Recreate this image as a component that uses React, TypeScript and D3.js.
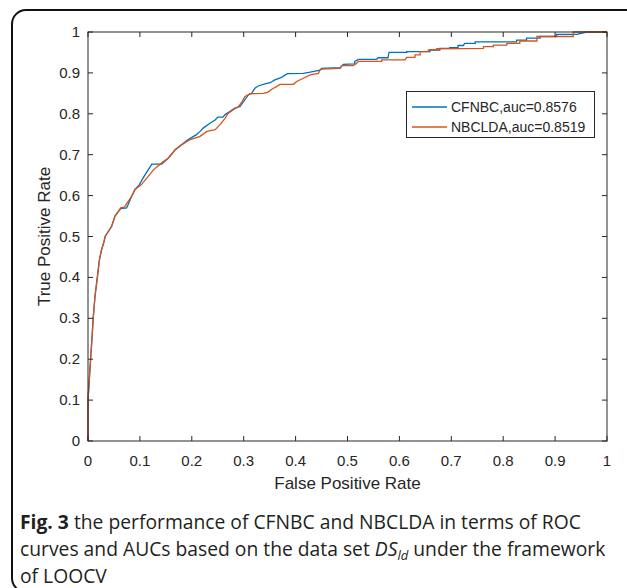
import React from "react";
import * as d3 from "d3";

const xTicks = [0, 0.1, 0.2, 0.3, 0.4, 0.5, 0.6, 0.7, 0.8, 0.9, 1];
const yTicks = [0, 0.1, 0.2, 0.3, 0.4, 0.5, 0.6, 0.7, 0.8, 0.9, 1];

const seriesNames = ["CFNBC,auc=0.8576", "NBCLDA,auc=0.8519"];
const seriesColors = ["#0072BD", "#D95319"];

const cfnbcFpr = [0,0,0.0025,0.005,0.008,0.010,0.0135,0.018,0.0205,0.022,0.026,0.031,0.033,0.0456,0.052,0.063,0.0745,0.084,0.0906,0.099,0.108,0.116,0.123,0.142,0.155,0.168,0.180,0.193,0.209,0.216,0.222,0.235,0.245,0.25,0.26,0.264,0.274,0.283,0.293,0.302,0.309,0.315,0.322,0.328,0.341,0.351,0.360,0.373,0.384,0.415,0.428,0.447,0.45,0.486,0.492,0.514,0.514,0.521,0.556,0.559,0.578,0.580,0.614,0.614,0.659,0.659,0.678,0.678,0.697,0.697,0.713,0.713,0.723,0.726,0.746,0.746,0.826,0.826,0.845,0.845,0.871,0.871,0.903,0.903,0.942,0.961,1];
const cfnbcTpr = [0,0.1,0.15,0.2,0.257,0.3,0.354,0.4,0.427,0.443,0.467,0.488,0.5,0.525,0.55,0.568,0.570,0.598,0.615,0.627,0.647,0.663,0.677,0.677,0.692,0.712,0.724,0.737,0.749,0.757,0.765,0.777,0.785,0.792,0.792,0.798,0.806,0.814,0.818,0.834,0.846,0.85,0.863,0.868,0.873,0.876,0.883,0.889,0.898,0.899,0.902,0.907,0.911,0.913,0.921,0.922,0.928,0.933,0.933,0.937,0.937,0.950,0.950,0.952,0.952,0.956,0.956,0.960,0.960,0.962,0.962,0.967,0.967,0.972,0.972,0.976,0.976,0.980,0.980,0.985,0.985,0.989,0.989,0.994,0.994,1.0,1];

const nbcldaFpr = [0,0,0.0025,0.005,0.008,0.010,0.0135,0.018,0.0205,0.022,0.026,0.031,0.033,0.0456,0.052,0.063,0.07,0.084,0.0906,0.103,0.116,0.126,0.142,0.155,0.168,0.180,0.197,0.216,0.229,0.245,0.254,0.264,0.270,0.280,0.290,0.297,0.302,0.312,0.338,0.347,0.354,0.364,0.370,0.396,0.402,0.415,0.428,0.444,0.447,0.45,0.486,0.489,0.511,0.516,0.521,0.566,0.566,0.611,0.614,0.630,0.63,0.64,0.640,0.656,0.656,0.672,0.672,0.762,0.762,0.781,0.781,0.807,0.807,0.832,0.832,0.865,0.865,0.935,0.935,1];
const nbcldaTpr = [0,0.1,0.15,0.2,0.257,0.3,0.354,0.4,0.427,0.443,0.467,0.488,0.5,0.525,0.55,0.570,0.572,0.598,0.615,0.627,0.647,0.663,0.68,0.692,0.712,0.724,0.737,0.745,0.757,0.761,0.773,0.789,0.801,0.810,0.818,0.830,0.842,0.849,0.850,0.853,0.860,0.867,0.872,0.872,0.879,0.887,0.895,0.899,0.907,0.909,0.911,0.918,0.918,0.922,0.928,0.928,0.932,0.932,0.938,0.938,0.944,0.944,0.952,0.952,0.956,0.956,0.959,0.960,0.964,0.964,0.968,0.968,0.972,0.972,0.978,0.978,0.989,0.989,1,1];

const W = 627;
const H = 588;
const M = { left: 88, right: 607, top: 32, bottom: 441 };
const FONT = "'Liberation Sans', Arial, Helvetica, sans-serif";
const AXC = "#262626";

export default function App() {
  const x = d3.scaleLinear().domain([0, 1]).range([M.left, M.right]);
  const y = d3.scaleLinear().domain([0, 1]).range([M.bottom, M.top]);
  const line = d3
    .line<[number, number]>()
    .x((d) => x(d[0]))
    .y((d) => y(d[1]));
  const series = [
    cfnbcFpr.map((v, i) => [v, cfnbcTpr[i]] as [number, number]),
    nbcldaFpr.map((v, i) => [v, nbcldaTpr[i]] as [number, number]),
  ];
  const tl = 5;
  return (
    <svg
      width={W}
      height={H}
      style={{ position: "absolute", left: 0, top: 0, background: "#fff" }}
    >
      <rect x={12} y={10} width={640} height={582} rx={14} ry={14} fill="#fff" stroke="#111" strokeWidth={2} />
      <rect x={M.left} y={M.top} width={M.right - M.left} height={M.bottom - M.top} fill="#fff" />
      {series.map((s, i) => (
        <path key={i} d={line(s) || ""} fill="none" stroke={seriesColors[i]} strokeWidth={1.3} />
      ))}
      <rect x={M.left} y={M.top} width={M.right - M.left} height={M.bottom - M.top} fill="none" stroke={AXC} strokeWidth={1} />
      {xTicks.map((t) => (
        <g key={"x" + t}>
          <line x1={x(t)} x2={x(t)} y1={M.bottom} y2={M.bottom - tl} stroke={AXC} />
          <line x1={x(t)} x2={x(t)} y1={M.top} y2={M.top + tl} stroke={AXC} />
          <text x={x(t)} y={466} textAnchor="middle" fontFamily={FONT} fontSize={15} fill={AXC}>
            {d3.format("")(t)}
          </text>
        </g>
      ))}
      {yTicks.map((t) => (
        <g key={"y" + t}>
          <line x1={M.left} x2={M.left + tl} y1={y(t)} y2={y(t)} stroke={AXC} />
          <line x1={M.right} x2={M.right - tl} y1={y(t)} y2={y(t)} stroke={AXC} />
          <text x={80} y={y(t) + 5} textAnchor="end" fontFamily={FONT} fontSize={15} fill={AXC}>
            {d3.format("")(t)}
          </text>
        </g>
      ))}
      <text x={(M.left + M.right) / 2} y={489} textAnchor="middle" fontFamily={FONT} fontSize={17} fill={AXC}>
        False Positive Rate
      </text>
      <text
        transform={`translate(50,${(M.top + M.bottom) / 2}) rotate(-90)`}
        textAnchor="middle"
        fontFamily={FONT}
        fontSize={17}
        fill={AXC}
      >
        True Positive Rate
      </text>
      <rect x={406.5} y={91.5} width={188} height={46} fill="#fff" stroke={AXC} strokeWidth={1} />
      {seriesNames.map((n, i) => (
        <g key={n}>
          <line x1={412} x2={447} y1={107 + i * 20} y2={107 + i * 20} stroke={seriesColors[i]} strokeWidth={1.3} />
          <text x={451} y={112 + i * 20} fontFamily={FONT} fontSize={14} fill={AXC}>
            {n}
          </text>
        </g>
      ))}
      <g fontFamily="'Open Sans', 'Noto Sans', sans-serif" fontSize={19.3} fill="#231f20">
        <text x={20} y={529}>
          <tspan fontWeight="bold">Fig. 3</tspan>
          <tspan> the performance of CFNBC and NBCLDA in terms of ROC</tspan>
        </text>
        <text x={20} y={556}>
          <tspan>curves and AUCs based on the data set </tspan>
          <tspan fontStyle="italic">DS</tspan>
          <tspan fontStyle="italic" fontSize={13} dy={4}>ld</tspan>
          <tspan dy={-4}> under the framework</tspan>
        </text>
        <text x={20} y={583}>of LOOCV</text>
      </g>
    </svg>
  );
}
